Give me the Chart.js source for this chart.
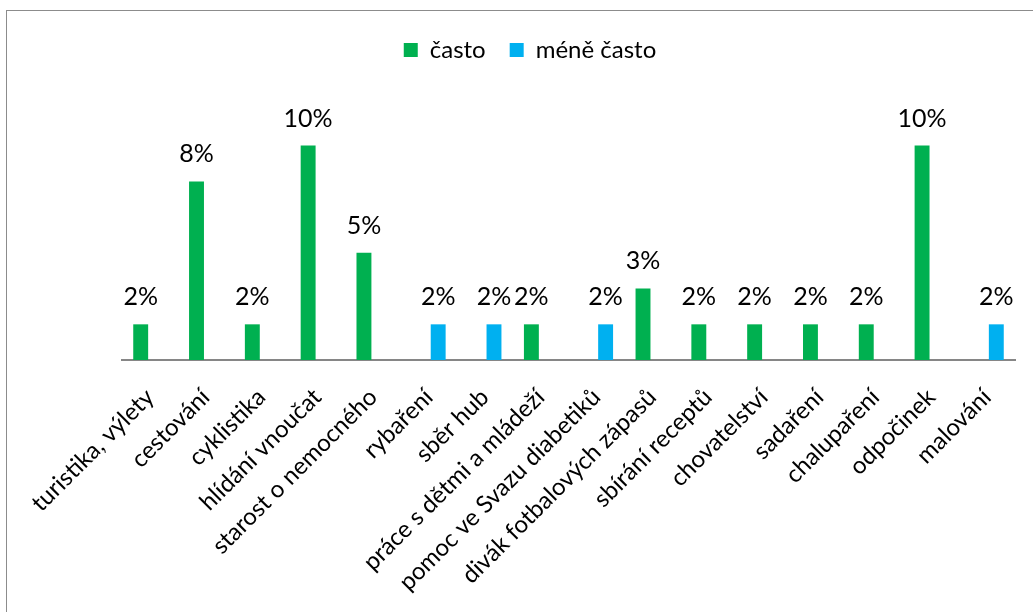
<!DOCTYPE html>
<html lang="cs">
<head>
<meta charset="UTF-8" />
<title>Volnočasové aktivity</title>
<script src="https://cdn.jsdelivr.net/npm/chart.js"></script>
<style>
  html, body { margin: 0; padding: 0; background: #fff; overflow: hidden; }
  #wrap { position: absolute; left: 0; top: 0; width: 1033px; height: 612px; }
  #frame { position: absolute; left: 6px; top: 10px; width: 1100px; height: 700px;
           border: 1px solid #8c8c8c; pointer-events: none; }
</style>
</head>
<body>
<div id="frame"></div>
<div id="wrap"><canvas id="myChart"></canvas></div>
<script>
const categories = [
  'turistika, výlety', 'cestování', 'cyklistika', 'hlídání vnoučat',
  'starost o nemocného', 'rybaření', 'sběr hub', 'práce s dětmi a mládeží',
  'pomoc ve Svazu diabetiků', 'divák fotbalových zápasů', 'sbírání receptů',
  'chovatelství', 'sadaření', 'chalupaření', 'odpočinek', 'malování'
];
// podíly v procentech
const casto = [1.61, 8.06, 1.61, 9.68, 4.84, null, null, 1.61, null, 3.23, 1.61, 1.61, 1.61, 1.61, 9.68, null];
const meneCasto = [null, null, null, null, null, 1.61, 1.61, null, 1.61, null, null, null, null, null, null, 1.61];

const FONT = 'Lato, "Open Sans", sans-serif';

// popisky hodnot nad sloupci
const valueLabels = {
  id: 'valueLabels',
  afterDatasetsDraw(chart) {
    const ctx = chart.ctx;
    ctx.save();
    ctx.font = '25px ' + FONT;
    ctx.fillStyle = '#000';
    ctx.textAlign = 'center';
    ctx.textBaseline = 'alphabetic';
    chart.data.datasets.forEach((ds, i) => {
      const meta = chart.getDatasetMeta(i);
      meta.data.forEach((bar, j) => {
        const v = ds.data[j];
        if (v == null) return;
        ctx.fillText(Math.round(v) + '%', bar.x, bar.y - 19);
      });
    });
    ctx.restore();
  }
};

const config = {
  type: 'bar',
  data: {
    labels: categories,
    datasets: [
      { label: 'často', data: casto, backgroundColor: '#00B050' },
      { label: 'méně často', data: meneCasto, backgroundColor: '#00B0F0' }
    ]
  },
  options: {
    responsive: true,
    maintainAspectRatio: false,
    animation: false,
    categoryPercentage: 0.66,
    barPercentage: 0.81,
    layout: { padding: { left: 45, right: 18, top: 14, bottom: 0 } },
    plugins: {
      legend: {
        position: 'top',
        labels: {
          color: '#000',
          font: { family: FONT, size: 24 },
          boxWidth: 14,
          boxHeight: 14,
          padding: 24
        }
      },
      tooltip: { enabled: false }
    },
    scales: {
      x: {
        grid: { display: false },
        border: { display: true, color: '#868686', width: 2 },
        ticks: {
          color: '#000',
          font: { family: FONT, size: 24 },
          maxRotation: 45,
          minRotation: 45,
          autoSkip: false,
          padding: 15
        },
        afterFit(s) {
          s.height = 252;
          s.paddingLeft = 122;
          s.paddingRight = 0;
        }
      },
      y: {
        display: false,
        min: 0,
        max: 13
      }
    }
  },
  plugins: [valueLabels]
};

const myChart = new Chart(document.getElementById('myChart'), config);
</script>
</body>
</html>
